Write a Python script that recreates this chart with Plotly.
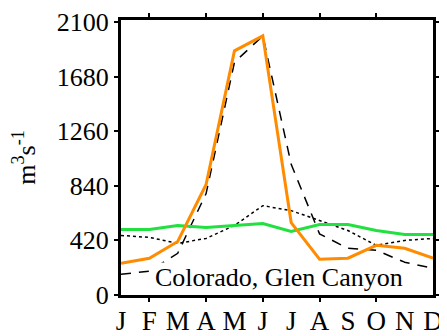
import plotly.graph_objects as go

months = ["J", "F", "M", "A", "M", "J", "J", "A", "S", "O", "N", "D"]
month_idx = list(range(1, 13))
y_ticks = [0, 420, 840, 1260, 1680, 2100]

orange_vals = [244, 283, 412, 850, 1878, 1993, 557, 275, 283, 382, 359, 283]
green_vals = [504, 504, 535, 519, 535, 550, 489, 542, 542, 496, 466, 466]
dotted_vals = [458, 443, 397, 435, 535, 687, 649, 573, 496, 382, 420, 435]
dashed_vals = [160, 183, 321, 780, 1790, 1993, 1005, 470, 359, 344, 252, 206]

serif = "Liberation Serif, Times New Roman, serif"

fig = go.Figure()
fig.add_trace(go.Scatter(x=month_idx, y=dotted_vals, mode="lines",
                         line=dict(color="black", width=1.5, dash="dot")))
fig.add_trace(go.Scatter(x=month_idx, y=dashed_vals, mode="lines",
                         line=dict(color="black", width=1.5, dash="10px,8px")))
fig.add_trace(go.Scatter(x=month_idx, y=green_vals, mode="lines",
                         line=dict(color="#22e040", width=3)))
fig.add_trace(go.Scatter(x=month_idx, y=orange_vals, mode="lines",
                         line=dict(color="#ff8c00", width=3)))

fig.add_annotation(x=0.505, y=0.006, xref="paper", yref="paper",
                   xanchor="center", yanchor="bottom",
                   text="Colorado, Glen Canyon", showarrow=False,
                   font=dict(family=serif, size=26, color="black"),
                   bgcolor="white", borderpad=0)

fig.update_layout(
    width=439, height=328,
    margin=dict(l=113, r=14, t=12, b=41, autoexpand=False),
    plot_bgcolor="white", paper_bgcolor="white",
    showlegend=False,
    font=dict(family=serif, color="black"),
)
fig.update_xaxes(
    range=[1, 12], tickvals=month_idx, ticktext=months,
    tickfont=dict(family=serif, size=27), ticks="",
    showgrid=False, zeroline=False, automargin=False,
    showline=True, linecolor="black", linewidth=3, mirror="ticks",
    minor=dict(tickvals=[2, 4, 6, 8, 10], ticks="outside", ticklen=4,
               tickcolor="black", tickwidth=1.5, showgrid=False),
)
fig.update_yaxes(
    range=[0, 2115], tickvals=y_ticks,
    tickfont=dict(family=serif, size=26), ticks="outside", ticklen=4,
    tickcolor="black", tickwidth=1.5,
    showgrid=False, zeroline=False, automargin=False,
    showline=True, linecolor="black", linewidth=3, mirror="ticks",
    title=dict(text="m<sup>3</sup>s<sup>-1</sup>", font=dict(family=serif, size=26),
               standoff=17),
)

fig.write_html("out.html")
